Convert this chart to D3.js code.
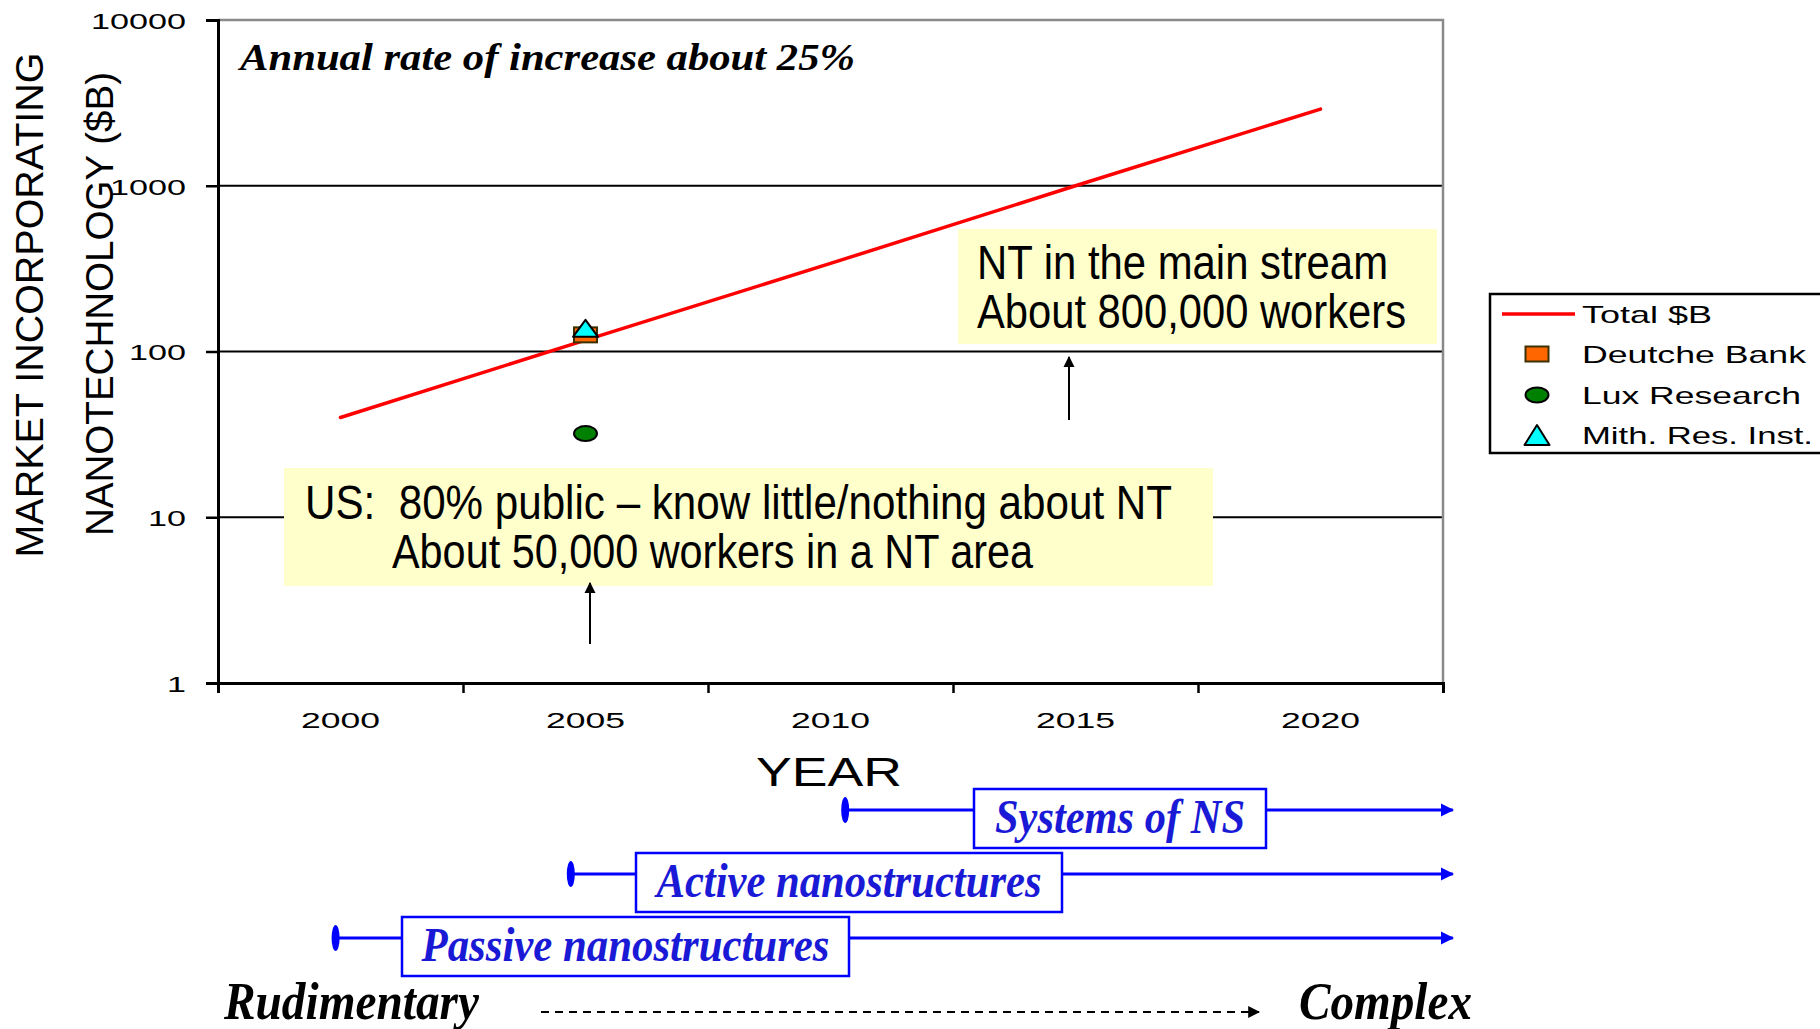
<!DOCTYPE html>
<html lang="en">
<head>
<meta charset="utf-8">
<style>
  body { margin: 0; background: #fff; }
  svg { display: block; }
</style>
</head>
<body>
<script src="https://d3js.org/d3.v7.min.js"></script>
<script>
    var width = 1820, height = 1029;

    // data
    var years = [2000, 2005, 2010, 2015, 2020];
    var totalB = [40, 117, 340, 1000, 2900];
    var yTicks = [1, 10, 100, 1000, 10000];
    var gridValues = [10, 100, 1000];
    var xLabels = [2000, 2005, 2010, 2015, 2020];
    var xTickYears = [1997.5, 2002.5, 2007.5, 2012.5, 2017.5, 2022.5];

    var forecasts = [
        { name: 'Deutche Bank', year: 2005, value: 126, shape: 'square' },
        { name: 'Lux Research', year: 2005, value: 32, shape: 'circle' },
        { name: 'Mith. Res. Inst.', year: 2005, value: 138, shape: 'triangle' }
    ];

    var phaseNames = ['Passive nanostructures', 'Active nanostructures', 'Systems of NS'];
    var phaseStart = [1999.9, 2004.7, 2010.3];
    var phaseEnd = 2022.7;

    var svg = d3.select('body').append('svg').attr('width', width).attr('height', height);

    var x = d3.scaleLinear().domain([1997.5, 2022.5]).range([218, 1443]);
    var y = d3.scaleLog().domain([1, 10000]).range([683, 20]);

    // stretch text to a measured width, like the wide fonts in the original
    function fit(sel, len) {
        return sel.attr('textLength', len).attr('lengthAdjust', 'spacingAndGlyphs');
    }

    // gridlines
    svg.append('g').selectAll('line').data(gridValues).join('line')
        .attr('x1', x(1997.5)).attr('x2', x(2022.5))
        .attr('y1', d => y(d)).attr('y2', d => y(d))
        .attr('stroke', '#000').attr('stroke-width', 2);

    // top + right border (grey)
    svg.append('path')
        .attr('d', 'M' + x(1997.5) + ',' + y(10000) + 'H' + x(2022.5) + 'V' + y(1))
        .attr('fill', 'none').attr('stroke', '#8a8a8a').attr('stroke-width', 2.5);

    // y axis
    var yAxis = svg.append('g').attr('transform', 'translate(' + x(1997.5) + ',0)')
        .call(d3.axisLeft(y).tickValues(yTicks).tickSize(12).tickFormat(d3.format('d')));
    yAxis.select('.domain').attr('stroke', '#000').attr('stroke-width', 3);
    yAxis.selectAll('.tick line').attr('stroke', '#000').attr('stroke-width', 2.5);
    yAxis.selectAll('.tick text')
        .attr('x', -32).attr('dy', '0.38em')
        .style('font-family', 'Liberation Sans, Arial, sans-serif').style('font-size', '22px').attr('fill', '#000')
        .each(function (d) { fit(d3.select(this), String(d).length * 19); });

    // x axis
    var xAxis = svg.append('g').attr('transform', 'translate(0,' + y(1) + ')')
        .call(d3.axisBottom(x).tickValues(xTickYears).tickSize(10).tickFormat(''));
    xAxis.select('.domain').attr('stroke', '#000').attr('stroke-width', 3);
    xAxis.selectAll('.tick line').attr('stroke', '#000').attr('stroke-width', 2.5);

    svg.append('g').selectAll('text').data(xLabels).join('text')
        .attr('x', d => x(d)).attr('y', 728)
        .attr('text-anchor', 'middle')
        .style('font-family', 'Liberation Sans, Arial, sans-serif').style('font-size', '22px')
        .text(d => d)
        .call(fit, 79);

    fit(svg.append('text').attr('x', 829).attr('y', 786).attr('text-anchor', 'middle')
        .style('font-family', 'Liberation Sans, Arial, sans-serif').style('font-size', '40px')
        .text('YEAR'), 146);

    // y titles
    fit(svg.append('text').attr('transform', 'translate(43,305) rotate(-90)').attr('text-anchor', 'middle')
        .style('font-family', 'Liberation Sans, Arial, sans-serif').style('font-size', '39px')
        .text('MARKET INCORPORATING'), 505);
    fit(svg.append('text').attr('transform', 'translate(113,304) rotate(-90)').attr('text-anchor', 'middle')
        .style('font-family', 'Liberation Sans, Arial, sans-serif').style('font-size', '39px')
        .text('NANOTECHNOLOGY ($B)'), 464);

    // annotation top-left
    fit(svg.append('text').attr('x', 240).attr('y', 70)
        .style('font-family', 'Liberation Serif, Times New Roman, serif').style('font-size', '37px')
        .style('font-weight', 'bold').style('font-style', 'italic')
        .text('Annual rate of increase about 25%'), 615);

    // yellow call-out boxes
    var narrow = 'Liberation Sans Narrow, Arial Narrow, Liberation Sans, sans-serif';
    svg.append('rect').attr('x', 958).attr('y', 229).attr('width', 479).attr('height', 115).attr('fill', '#ffffcc');
    fit(svg.append('text').attr('x', 977).attr('y', 279).style('font-family', narrow).style('font-size', '48px')
        .text('NT in the main stream'), 411);
    fit(svg.append('text').attr('x', 977).attr('y', 328).style('font-family', narrow).style('font-size', '48px')
        .text('About 800,000 workers'), 429);

    svg.append('rect').attr('x', 284).attr('y', 468).attr('width', 929).attr('height', 118).attr('fill', '#ffffcc');
    fit(svg.append('text').attr('x', 305).attr('y', 519).style('font-family', narrow).style('font-size', '48px')
        .attr('xml:space', 'preserve')
        .text('US:  80% public \u2013 know little/nothing about NT'), 867);
    fit(svg.append('text').attr('x', 392).attr('y', 568).style('font-family', narrow).style('font-size', '48px')
        .text('About 50,000 workers in a NT area'), 641);

    // small black arrows
    svg.append('defs').append('marker')
        .attr('id', 'ah').attr('viewBox', '0 0 10 10').attr('refX', 9).attr('refY', 5)
        .attr('markerWidth', 5.5).attr('markerHeight', 6).attr('orient', 'auto-start-reverse')
        .append('path').attr('d', 'M0,0L10,5L0,10Z').attr('fill', '#000');
    [[1069, 420, 357], [590, 644, 583]].forEach(function (a) {
        svg.append('line').attr('x1', a[0]).attr('x2', a[0]).attr('y1', a[1]).attr('y2', a[2])
            .attr('stroke', '#000').attr('stroke-width', 2).attr('marker-end', 'url(#ah)');
    });

    // total line
    var lineData = years.map((d, i) => ({ year: d, value: totalB[i] }));
    svg.append('path').datum(lineData)
        .attr('d', d3.line().x(d => x(d.year)).y(d => y(d.value)))
        .attr('fill', 'none').attr('stroke', '#ff0000').attr('stroke-width', 3.5).attr('stroke-linecap', 'round');

    // forecast markers
    function drawMarker(g, shape, cx, cy, big) {
        if (shape === 'square') {
            g.append('rect').attr('x', cx - 11.5).attr('y', cy - 7.5).attr('width', 23).attr('height', 15)
                .attr('fill', '#ff6600').attr('stroke', '#3a3000').attr('stroke-width', 2);
        } else if (shape === 'circle') {
            g.append('ellipse').attr('cx', cx).attr('cy', cy).attr('rx', 11.5).attr('ry', 7.5)
                .attr('fill', '#008000').attr('stroke', '#000').attr('stroke-width', 2);
        } else {
            var h = big ? 20 : 17;
            g.append('path').attr('d', 'M' + cx + ',' + (cy - h / 2) + 'L' + (cx + 12.5) + ',' + (cy + h / 2) + 'L' + (cx - 12.5) + ',' + (cy + h / 2) + 'Z')
                .attr('fill', '#00ffff').attr('stroke', '#000').attr('stroke-width', 2).attr('stroke-linejoin', 'round');
        }
    }
    var mk = svg.append('g');
    forecasts.forEach(function (f) { drawMarker(mk, f.shape, x(f.year), y(f.value), false); });

    // legend
    var lg = svg.append('g');
    lg.append('rect').attr('x', 1490).attr('y', 294).attr('width', 400).attr('height', 159)
        .attr('fill', '#fff').attr('stroke', '#000').attr('stroke-width', 2.5);
    var legendRows = [{ name: 'Total $B', shape: 'line' }].concat(forecasts);
    var legendY = [314, 354, 395, 435];
    var legendLen = [130, 224, 219, 231];
    legendRows.forEach(function (r, i) {
        var ly = legendY[i];
        if (r.shape === 'line') {
            lg.append('line').attr('x1', 1502).attr('x2', 1575).attr('y1', ly).attr('y2', ly)
                .attr('stroke', '#ff0000').attr('stroke-width', 3.5);
        } else {
            drawMarker(lg, r.shape, 1537, ly, true);
        }
        fit(lg.append('text').attr('x', 1582).attr('y', ly + 9)
            .style('font-family', 'Liberation Sans, Arial, sans-serif').style('font-size', '24px')
            .text(r.name), legendLen[i]);
    });

    // phase timeline
    var blue = '#0000ff', textBlue = '#1a1ad6';
    var phaseY = [938, 874, 810];
    var boxX = [[402, 849], [636, 1062], [974, 1266]];
    var textLen = [408, 385, 250];
    var defs = svg.select('defs');
    defs.append('marker')
        .attr('id', 'bh').attr('viewBox', '0 0 10 10').attr('refX', 9).attr('refY', 5)
        .attr('markerWidth', 4.5).attr('markerHeight', 5.5).attr('orient', 'auto')
        .append('path').attr('d', 'M0,0L10,5L0,10Z').attr('fill', blue);
    defs.append('marker')
        .attr('id', 'kh').attr('viewBox', '0 0 10 10').attr('refX', 9).attr('refY', 5)
        .attr('markerWidth', 6).attr('markerHeight', 7).attr('orient', 'auto')
        .append('path').attr('d', 'M0,0L10,5L0,10Z').attr('fill', '#000');

    phaseNames.forEach(function (name, i) {
        var py = phaseY[i], x0 = x(phaseStart[i]), x1 = x(phaseEnd);
        svg.append('line').attr('x1', x0).attr('x2', x1).attr('y1', py).attr('y2', py)
            .attr('stroke', blue).attr('stroke-width', 3).attr('marker-end', 'url(#bh)');
        svg.append('ellipse').attr('cx', x0).attr('cy', py).attr('rx', 4).attr('ry', 13).attr('fill', blue);
        var b = boxX[i];
        svg.append('rect').attr('x', b[0]).attr('y', py - 21).attr('width', b[1] - b[0]).attr('height', 59)
            .attr('fill', '#fff').attr('stroke', blue).attr('stroke-width', 2.5);
        fit(svg.append('text').attr('x', (b[0] + b[1]) / 2).attr('y', py + 23).attr('text-anchor', 'middle')
            .style('font-family', 'Liberation Serif, Times New Roman, serif').style('font-size', '49px')
            .style('font-weight', 'bold').style('font-style', 'italic').attr('fill', textBlue)
            .text(name), textLen[i]);
    });

    // rudimentary -> complex
    fit(svg.append('text').attr('x', 224).attr('y', 1019)
        .style('font-family', 'Liberation Serif, Times New Roman, serif').style('font-size', '52px')
        .style('font-weight', 'bold').style('font-style', 'italic').text('Rudimentary'), 255);
    fit(svg.append('text').attr('x', 1299).attr('y', 1019)
        .style('font-family', 'Liberation Serif, Times New Roman, serif').style('font-size', '52px')
        .style('font-weight', 'bold').style('font-style', 'italic').text('Complex'), 173);
    svg.append('line').attr('x1', 541).attr('x2', 1259).attr('y1', 1012).attr('y2', 1012)
        .attr('stroke', '#000').attr('stroke-width', 2).attr('stroke-dasharray', '8,6').attr('marker-end', 'url(#kh)');
</script>
</body>
</html>
